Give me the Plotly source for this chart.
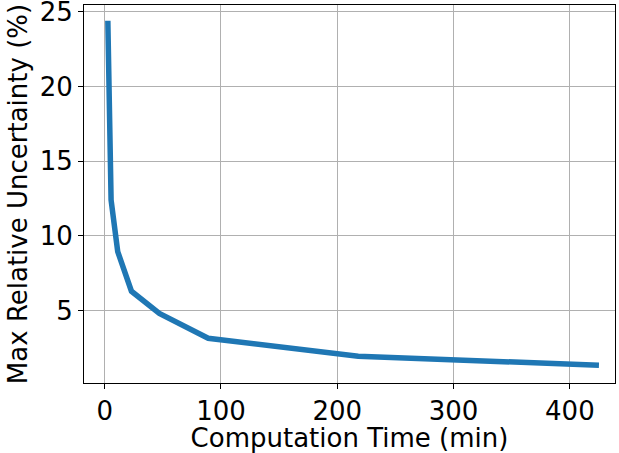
import plotly.graph_objects as go

time_min = [2.7, 5.5, 11.2, 23, 47, 89, 218, 425]
max_unc = [24.4, 12.4, 8.95, 6.3, 4.82, 3.15, 1.95, 1.35]
x_ticks = [0, 100, 200, 300, 400]
y_ticks = [5, 10, 15, 20, 25]

fig = go.Figure()
fig.add_trace(go.Scatter(x=time_min, y=max_unc, mode="lines",
                         line=dict(color="#1f77b4", width=5.5)))

font = dict(family="DejaVu Sans", size=26, color="black")
fig.update_layout(
    width=619, height=453,
    margin=dict(l=84, r=4, t=5, b=70),
    paper_bgcolor="white", plot_bgcolor="white",
    showlegend=False,
    font=font,
)
fig.update_xaxes(range=[-17.8, 438.8], tickvals=x_ticks, showgrid=True,
                 gridcolor="#b0b0b0", gridwidth=1, showline=True, linecolor="black",
                 linewidth=1, mirror=True, ticks="outside", ticklen=5, tickcolor="black",
                 zeroline=False, tickfont=font, automargin=False, ticklabeloverflow="allow",
                 title=dict(text="Computation Time (min)", font=font, standoff=1))
fig.update_yaxes(range=[0.16, 25.45], tickvals=y_ticks, showgrid=True,
                 gridcolor="#b0b0b0", gridwidth=1, showline=True, linecolor="black",
                 linewidth=1, mirror=True, ticks="outside", ticklen=5, tickcolor="black",
                 zeroline=False, tickfont=font, automargin=False, ticklabeloverflow="allow",
                 title=dict(text="Max Relative Uncertainty (%)", font=font, standoff=4))
fig.write_html("out.html", config={"displayModeBar": False},
               post_script="document.body.style.margin='0';document.body.style.overflow='hidden';")
